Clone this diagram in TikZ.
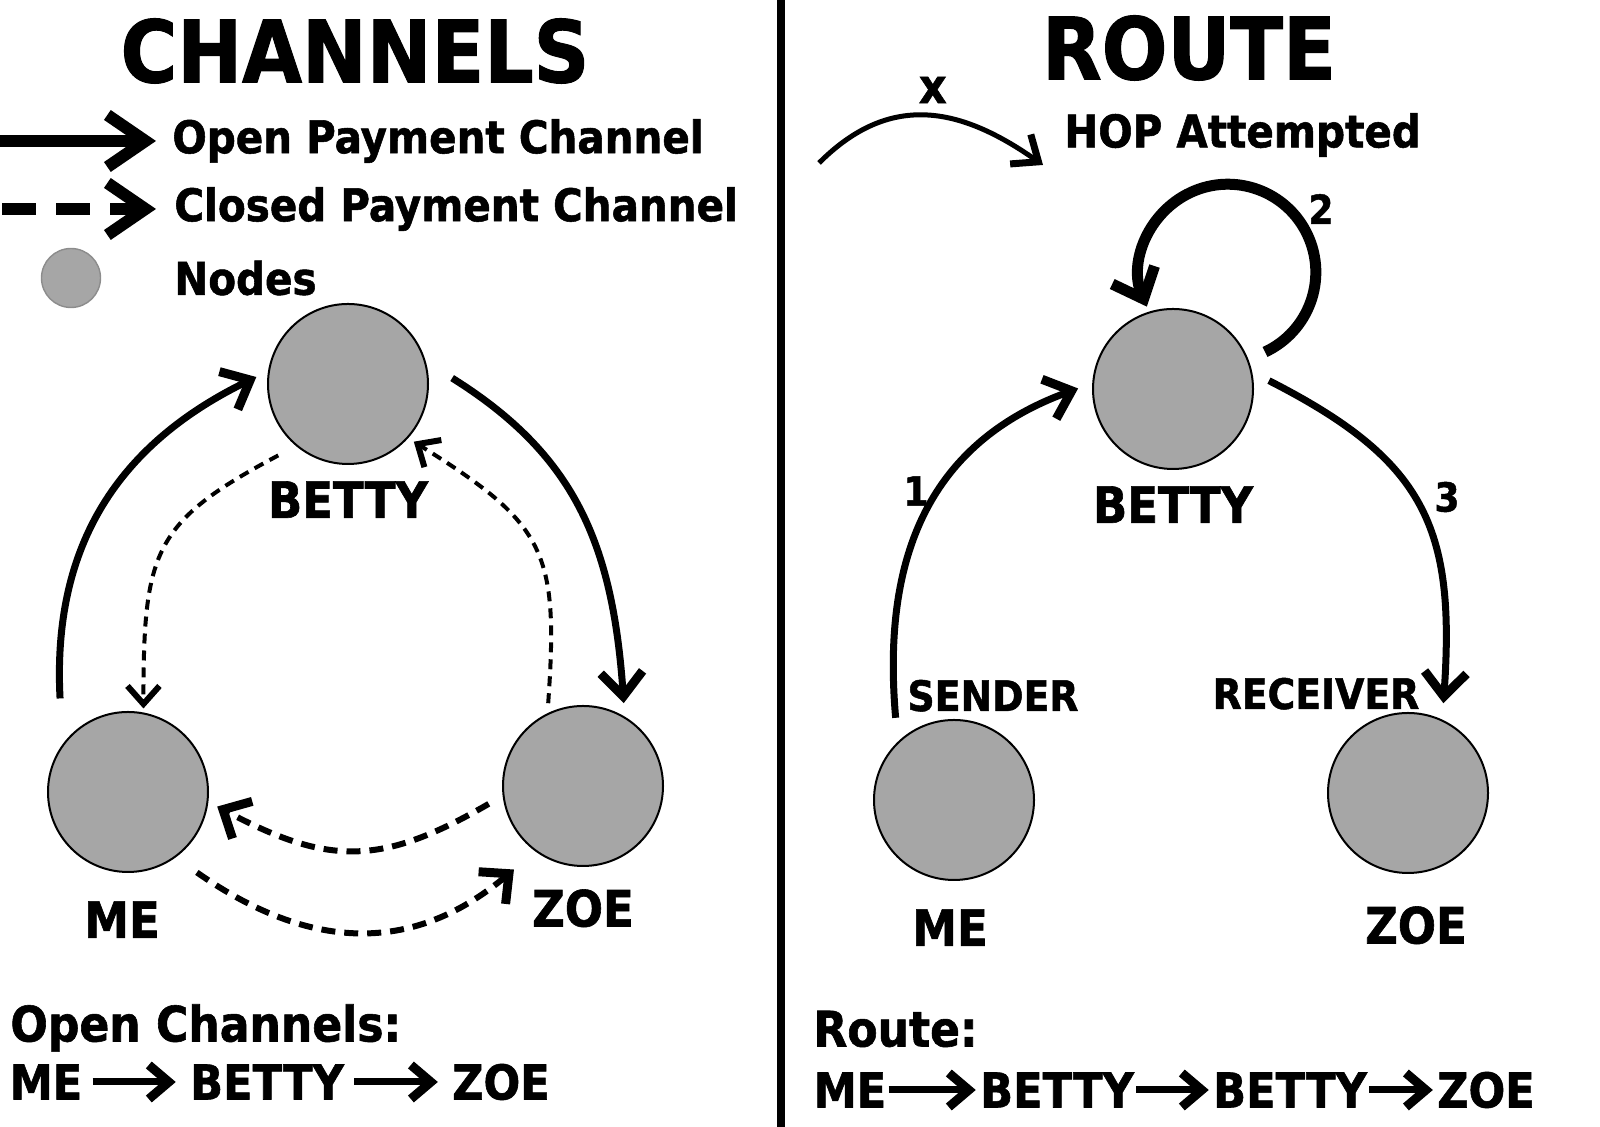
\documentclass[tikz,border=0pt]{standalone}
\usepackage{fontspec}
\setmainfont{DejaVu Sans Condensed}[BoldFeatures={FakeBold=1.2}]
\usetikzlibrary{arrows.meta,positioning}
\definecolor{nodefill}{HTML}{A6A6A6}
\definecolor{legrim}{HTML}{8C8C8C}
\newcommand{\fs}[1]{\fontsize{#1}{#1}\selectfont\bfseries}

\begin{document}
\begin{tikzpicture}[
  x=0.5pt,y=0.5pt,
  peer/.style={circle,draw=black,line width=1pt,fill=nodefill,minimum size=80pt,inner sep=0pt},
  title/.style={font=\fs{43},inner sep=0pt},
  legtxt/.style={font=\fs{22.5},anchor=west,inner sep=0pt},
  peername/.style={font=\fs{25},inner sep=0pt},
  role/.style={font=\fs{21},inner sep=0pt},
  hopnum/.style={font=\fs{20},inner sep=0pt},
  summary/.style={font=\fs{24.5},anchor=west,inner sep=0pt},
  pathtxt/.style={font=\fs{24},inner sep=0pt},
  legopenline/.style={line width=5.8pt,-{Straight Barb[length=19pt,width=26pt,line width=6pt]}},
  legshutline/.style={line width=5.8pt,dash pattern=on 17pt off 10pt,-{Straight Barb[length=19pt,width=26pt,line width=6pt]}},
  open/.style={line width=3.5pt,-{Straight Barb[length=12pt,width=21pt,line width=4.5pt]}},
  shut/.style={line width=2pt,dash pattern=on 5pt off 3.5pt,-{Straight Barb[length=9pt,width=16pt,line width=3pt]}},
  shutwide/.style={line width=3pt,dash pattern=on 7pt off 4.5pt,-{Straight Barb[length=11pt,width=21pt,line width=4.5pt]}},
  hop/.style={line width=3.5pt,-{Straight Barb[length=12pt,width=21pt,line width=4.5pt]}},
  selfhop/.style={line width=5.5pt,-{Straight Barb[length=13pt,width=23pt,line width=5.5pt]}},
  hoparc/.style={line width=2.5pt,-{Straight Barb[length=11pt,width=18pt,line width=3.5pt]}},
  seq/.style={line width=3.5pt,-{Straight Barb[length=10pt,width=17pt,line width=4.5pt]}},
]
\useasboundingbox (0,0) rectangle (1600,1127);

% divider
\draw[line width=4pt] (781,0) -- (781,1127);

% ---- left: channels ----
\node[title] (chtitle) at (355,1076) {CHANNELS};

\coordinate (legopen) at (0,986);
\coordinate (legshut) at (2,918);
\node[legtxt] (opentxt) at (172,986) {Open Payment Channel};
\node[legtxt] (shuttxt) at (174,918) {Closed Payment Channel};
\node[circle,draw=legrim,fill=nodefill,line width=0.7pt,minimum size=29.5pt,inner sep=0pt] (legnode) at (71,849) {};
\node[legtxt] (nodetxt) at (174,849) {Nodes};
\draw[legopenline,shorten >=8pt] (legopen) -- (opentxt.west);
\draw[legshutline,shorten >=9pt] (legshut) -- (shuttxt.west);

\node[peer] (bettyL) at (348,743) {};
\node[peer] (meL) at (128,335) {};
\node[peer] (zoeL) at (583,341) {};
\node[peername,below=8pt of bettyL] (bettyLname) {BETTY};
\node[peername,below=14pt of meL,xshift=-3pt] (meLname) {ME};
\node[peername,below=11pt of zoeL] (zoeLname) {ZOE};

\draw[open,shorten <=23pt,shorten >=6.5pt] (meL.144) to[out=93,in=206,looseness=1.1] (bettyL.171);
\draw[open,shorten <=15.5pt,shorten >=6.75pt] (bettyL.16) to[out=-32,in=94,looseness=1.1] (zoeL.59);
\draw[shut,shorten <=10pt,shorten >=2pt] (bettyL.230) to[out=208,in=90,looseness=1.35] (meL.79);
\draw[shut,shorten <=5pt,shorten >=3.3pt] (zoeL.116) to[out=86,in=-32,looseness=1.35] (bettyL.-42);
\draw[shutwide,shorten <=8pt,shorten >=5pt] (zoeL.187) to[out=210,in=-28,looseness=1.2] (meL.-7);
\draw[shutwide,shorten <=13pt,shorten >=14pt] (meL.-54) to[out=-35,in=220,looseness=1.15] (zoeL.234);

\node[summary] (opensum) at (10,99) {Open Channels:};
\node[pathtxt] (s1) at (46,45) {ME};
\node[pathtxt] (s2) at (267,45) {BETTY};
\node[pathtxt] (s3) at (501,45) {ZOE};
\draw[seq,shorten <=5pt,shorten >=7pt] (s1) -- (s2);
\draw[seq,shorten <=5pt,shorten >=7pt] (s2) -- (s3);

% ---- right: route ----
\node[title] (rttitle) at (1189,1079) {ROUTE};

\coordinate (hopstart) at (819,964);
\coordinate (hopend) at (1043,962);
\draw[hoparc] (hopstart) to[out=45,in=145,looseness=1.15] node[font=\fs{24},inner sep=0pt,above=5pt,xshift=3pt] (hopx) {x} (hopend);
\node[legtxt] (hoptxt) at (1064,992) {HOP Attempted};

\node[peer] (bettyR) at (1173,738) {};
\node[peer] (meR) at (954,327) {};
\node[peer] (zoeR) at (1408,334) {};
\node[peername,below=8pt of bettyR] (bettyRname) {BETTY};
\node[peername,below=14pt of meR,xshift=-2pt] (meRname) {ME};
\node[peername,below=16pt of zoeR,xshift=4pt] (zoeRname) {ZOE};
\node[role,above=3.5pt of meR,xshift=19.5pt] (sender) {SENDER};
\node[role,above=1pt of zoeR,xshift=-46pt] (receiver) {RECEIVER};

\draw[hop,shorten <=12pt,shorten >=7.5pt] (meR.134) to[out=95,in=200,looseness=1.12] (bettyR.176);
\draw[selfhop] ([shift={(92,37)}]bettyR.center) arc[start angle=-65,end angle=203,radius=88];
\draw[hop,shorten <=9.4pt,shorten >=8.2pt] (bettyR.12) to[out=-27,in=86,looseness=1.25] (zoeR.65);
\node[hopnum] (n1) at (916,636) {1};
\node[hopnum] (n2) at (1321,918) {2};
\node[hopnum] (n3) at (1447,630) {3};

\node[summary] (routesum) at (813,98) {Route:};
\node[pathtxt] (r1) at (850,37) {ME};
\node[pathtxt] (r2) at (1057,37) {BETTY};
\node[pathtxt] (r3) at (1290,37) {BETTY};
\node[pathtxt] (r4) at (1486,37) {ZOE};
\draw[seq,shorten <=1pt,shorten >=2pt] (r1) -- (r2);
\draw[seq,shorten <=1pt,shorten >=2pt] (r2) -- (r3);
\draw[seq,shorten <=1pt,shorten >=2pt] (r3) -- (r4);
\end{tikzpicture}
\end{document}
